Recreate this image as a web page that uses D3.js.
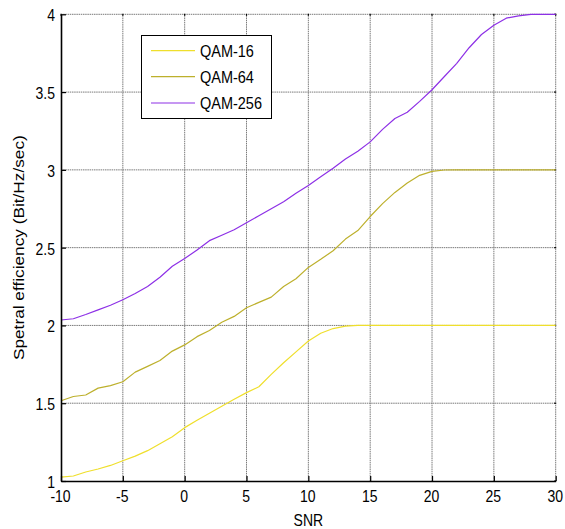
<!DOCTYPE html>
<html>
<head>
<meta charset="utf-8">
<script src="https://cdn.jsdelivr.net/npm/d3@7"></script>
<style>
  html, body { margin: 0; padding: 0; background: #fff; }
  svg { display: block; font-family: "Liberation Sans", Arial, sans-serif; }
</style>
</head>
<body>
<svg id="chart" width="565" height="529"></svg>
<script>
// ---- data ----
const snr = d3.range(-10, 31); // -10 .. 30 dB
const qam16 = [1.025, 1.032, 1.058, 1.077, 1.100, 1.130, 1.160, 1.195, 1.240, 1.285,
  1.343, 1.390, 1.435, 1.480, 1.525, 1.568, 1.606, 1.685, 1.760, 1.830,
  1.900, 1.950, 1.980, 1.995, 2.000, 2.000, 2.000, 2.000, 2.000, 2.000,
  2.000, 2.000, 2.000, 2.000, 2.000, 2.000, 2.000, 2.000, 2.000, 2.000, 2.000];
const qam64 = [1.516, 1.543, 1.553, 1.597, 1.613, 1.638, 1.700, 1.737, 1.775, 1.835,
  1.875, 1.928, 1.967, 2.020, 2.058, 2.114, 2.148, 2.182, 2.250, 2.300,
  2.373, 2.425, 2.480, 2.555, 2.610, 2.700, 2.783, 2.855, 2.915, 2.965,
  2.990, 2.999, 3.000, 3.000, 3.000, 3.000, 3.000, 3.000, 3.000, 3.000, 3.000];
const qam256 = [2.035, 2.043, 2.070, 2.100, 2.130, 2.165, 2.205, 2.250, 2.310, 2.380,
  2.430, 2.485, 2.545, 2.580, 2.615, 2.660, 2.705, 2.750, 2.795, 2.850,
  2.900, 2.955, 3.010, 3.070, 3.120, 3.180, 3.260, 3.330, 3.370, 3.440,
  3.515, 3.600, 3.685, 3.785, 3.870, 3.930, 3.975, 3.990, 4.000, 4.000, 4.000];
const seriesNames = ["QAM-16", "QAM-64", "QAM-256"];
const seriesValues = [qam16, qam64, qam256];
const seriesColors = ["#efdf2c", "#bdb02c", "#8d30e6"];
const xTicks = [-10, -5, 0, 5, 10, 15, 20, 25, 30];
const yTicks = [1, 1.5, 2, 2.5, 3, 3.5, 4];
const xLabel = "SNR";
const yLabel = "Spetral efficiency (Bit/Hz/sec)";

// ---- layout ----
const svg = d3.select("#chart");
const x = d3.scaleLinear().domain([-10, 30]).range([61, 555.7]);
const y = d3.scaleLinear().domain([1, 4]).range([481, 14.3]);
const SY = 1.15; // vertical text stretch of the reference

// grid
const grid = svg.append("g");
grid.selectAll("line.gx").data(xTicks.slice(1)).join("line")
  .attr("x1", d => x(d)).attr("x2", d => x(d))
  .attr("y1", y(1)).attr("y2", y(4))
  .attr("stroke", "#7a7a7a").attr("stroke-width", 1)
  .attr("stroke-dasharray", "1.5,0.7");
grid.selectAll("line.gy").data(yTicks.slice(1)).join("line")
  .attr("x1", x(-10)).attr("x2", x(30))
  .attr("y1", d => y(d)).attr("y2", d => y(d))
  .attr("stroke", "#7a7a7a").attr("stroke-width", 1)
  .attr("stroke-dasharray", "1.5,0.7");

// top/right small tick marks
svg.append("g").selectAll("line").data(xTicks).join("line")
  .attr("x1", d => x(d)).attr("x2", d => x(d))
  .attr("y1", y(4) - 0.5).attr("y2", y(4) + 1.5)
  .attr("stroke", "#000").attr("stroke-width", 1.2);
svg.append("g").selectAll("line").data(yTicks).join("line")
  .attr("x1", x(30) - 1.5).attr("x2", x(30) + 0.5)
  .attr("y1", d => y(d)).attr("y2", d => y(d))
  .attr("stroke", "#000").attr("stroke-width", 1.2);

// lines
const line = d3.line().x((d, i) => x(snr[i])).y(d => y(d));
svg.append("g").selectAll("path").data(seriesValues).join("path")
  .attr("d", d => line(d))
  .attr("fill", "none")
  .attr("stroke", (d, i) => seriesColors[i])
  .attr("stroke-width", 1.2)
  .attr("stroke-linejoin", "round");

// axes
const xAxis = svg.append("g").attr("transform", `translate(0,${y(1)})`)
  .call(d3.axisBottom(x).tickValues(xTicks).tickFormat(d => String(d))
    .tickSizeInner(-5).tickSizeOuter(0));
const yAxis = svg.append("g").attr("transform", `translate(${x(-10)},0)`)
  .call(d3.axisLeft(y).tickValues(yTicks).tickFormat(d => String(d))
    .tickSizeInner(-5).tickSizeOuter(0));
[xAxis, yAxis].forEach(a => {
  a.select(".domain").attr("stroke", "#000").attr("stroke-width", 1.6);
  a.selectAll(".tick line").attr("stroke", "#000").attr("stroke-width", 1.2);
  a.selectAll(".tick text").attr("fill", "#000").style("font-size", "14px");
  a.attr("font-family", null).attr("font-size", null);
});
xAxis.selectAll(".tick text")
  .attr("y", null).attr("dy", null)
  .attr("transform", `translate(-1,21) scale(1,${SY})`);
yAxis.selectAll(".tick text")
  .attr("x", null).attr("dy", null)
  .attr("transform", `translate(-6,6.5) scale(1,${SY})`);

// axis labels
svg.append("text")
  .attr("transform", `translate(${(x(-10) + x(30)) / 2},526) scale(1,${SY})`)
  .attr("text-anchor", "middle").style("font-size", "14px").text(xLabel);
svg.append("text")
  .attr("transform", `translate(24,${(y(1) + y(4)) / 2}) scale(1,${SY}) rotate(-90)`)
  .attr("text-anchor", "middle").style("font-size", "15px").text(yLabel);

// legend
const lg = svg.append("g");
lg.append("rect").attr("x", 141.5).attr("y", 35.5).attr("width", 130).attr("height", 83)
  .attr("fill", "#fff").attr("stroke", "#000").attr("stroke-width", 1);
const rowY = [50.7, 76.7, 103];
const items = lg.selectAll("g.item").data(seriesNames).join("g");
items.append("line")
  .attr("x1", 151).attr("x2", 195)
  .attr("y1", (d, i) => rowY[i]).attr("y2", (d, i) => rowY[i])
  .attr("stroke", (d, i) => seriesColors[i]).attr("stroke-width", 1.2);
items.append("text")
  .attr("transform", (d, i) => `translate(200,${rowY[i] + 6.3}) scale(1,${SY})`)
  .style("font-size", "14.5px").text(d => d);
</script>
</body>
</html>
